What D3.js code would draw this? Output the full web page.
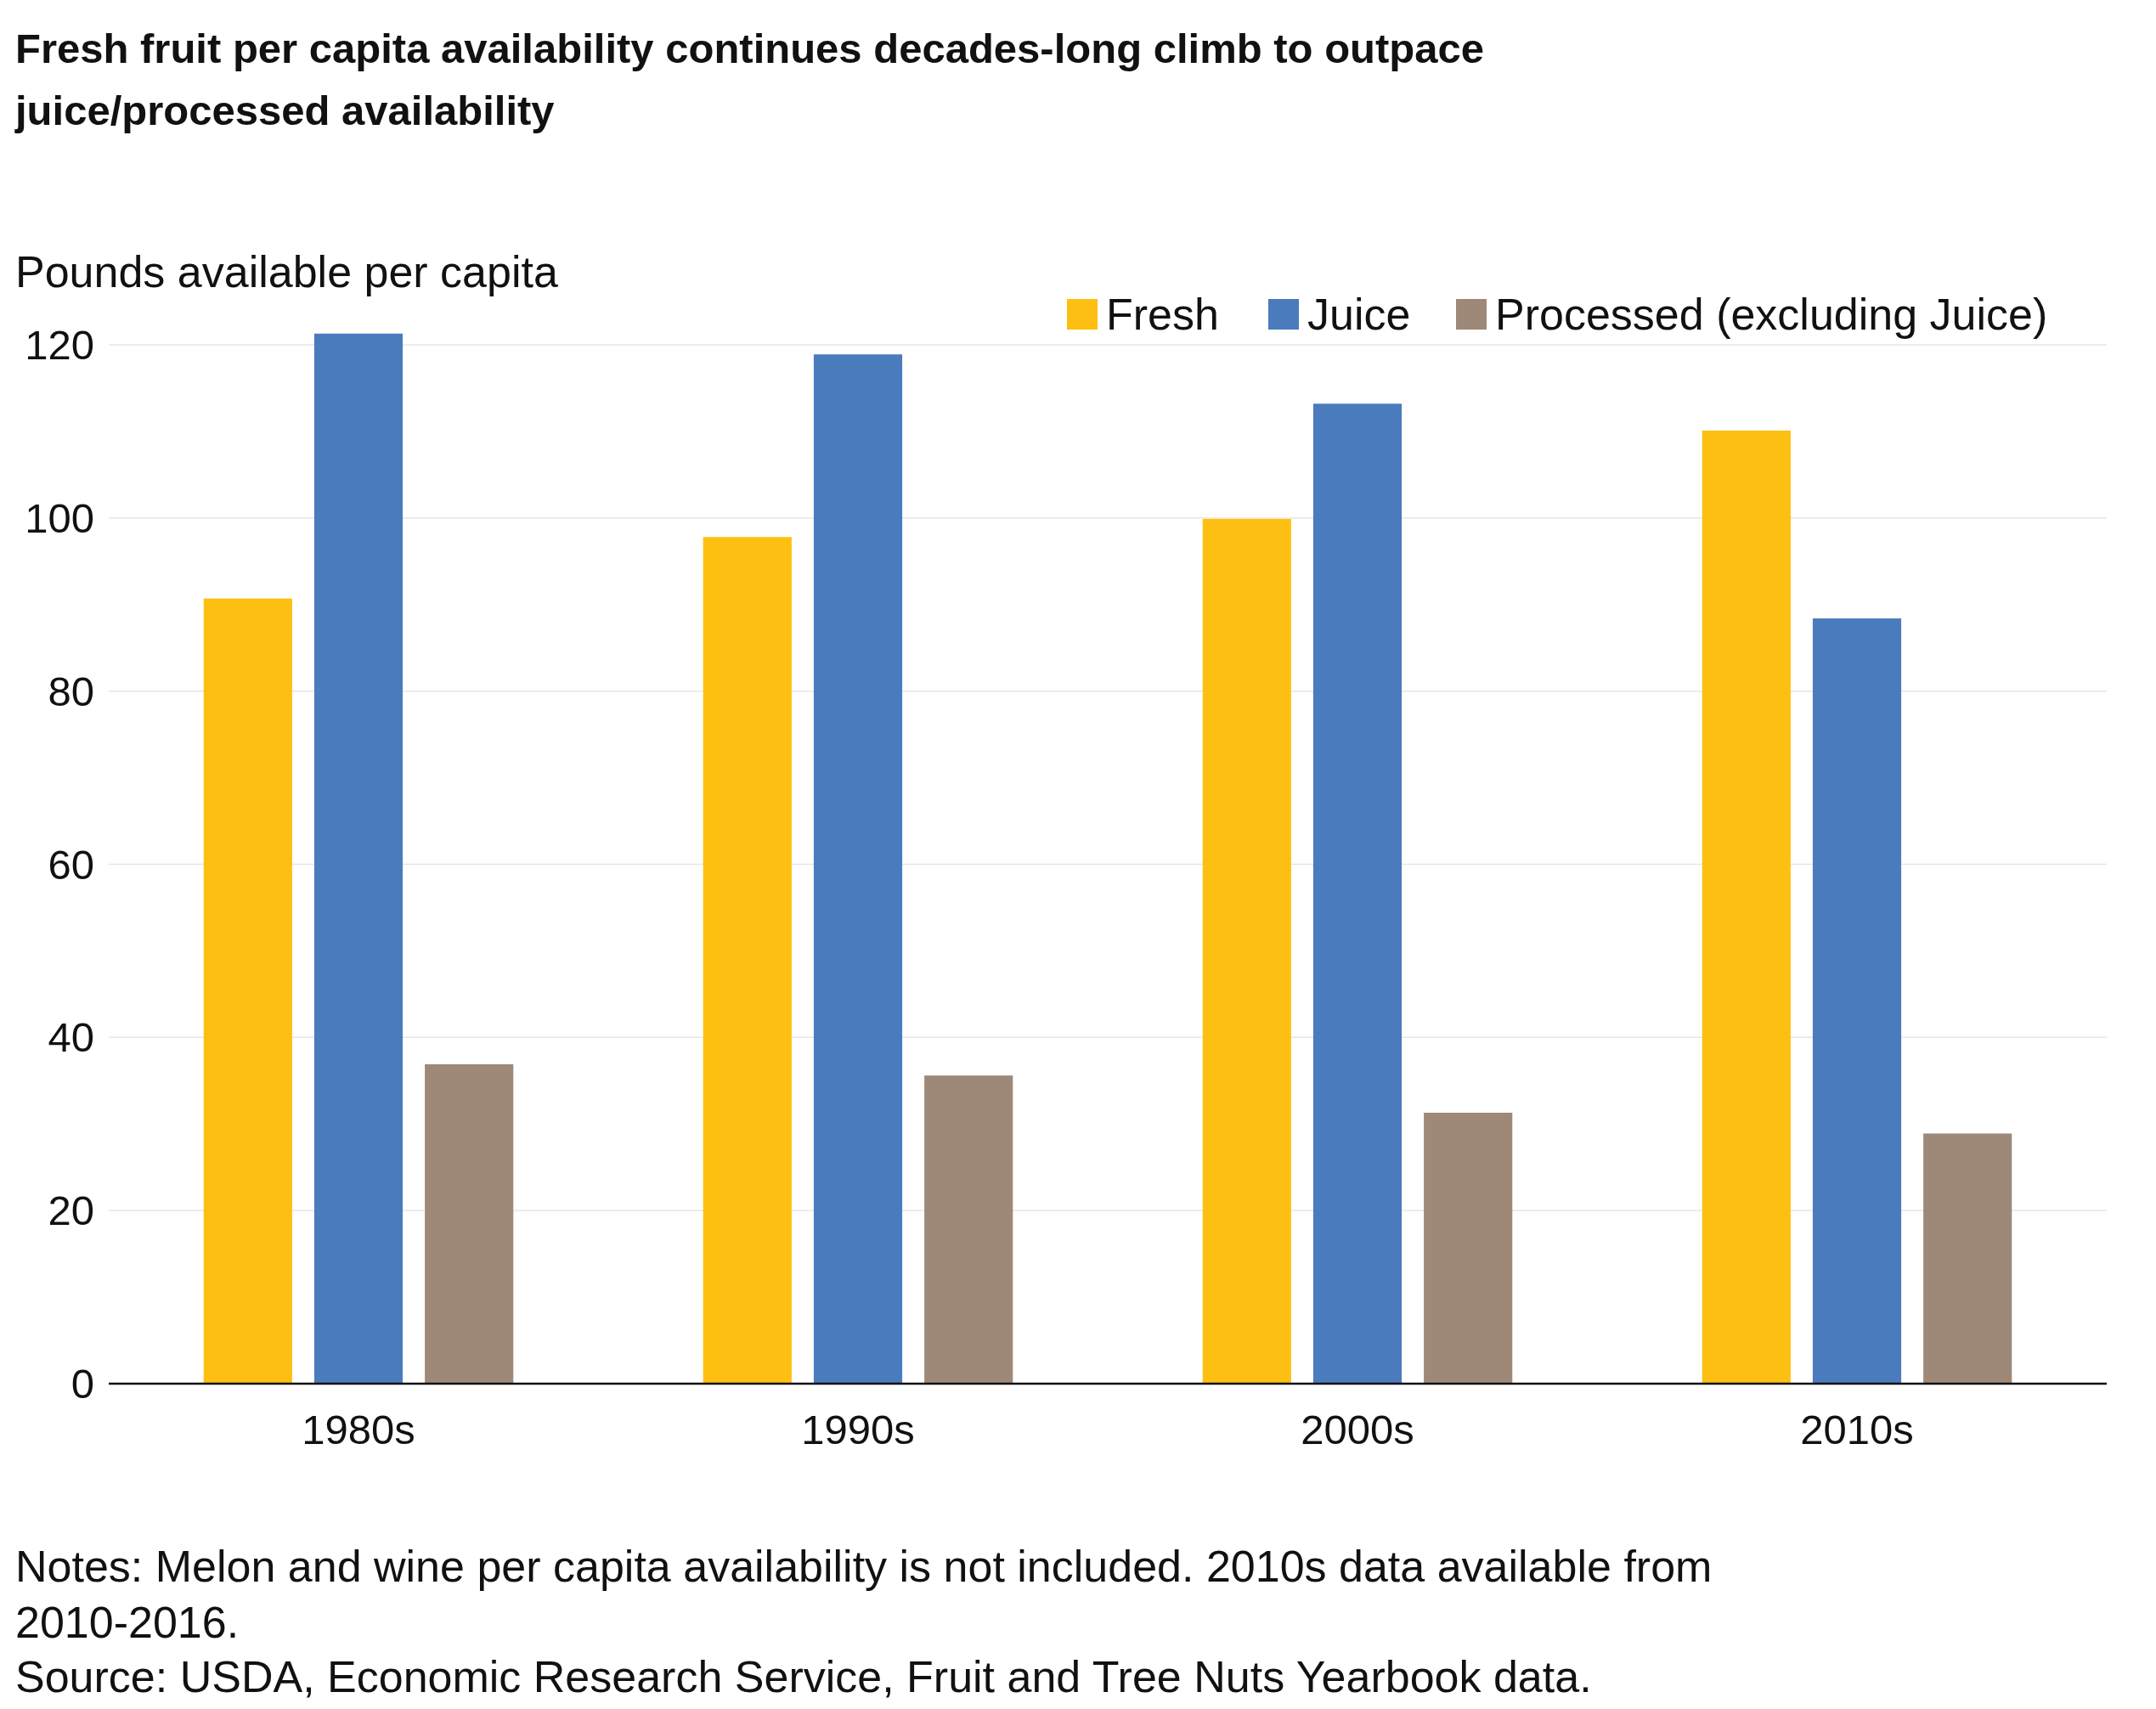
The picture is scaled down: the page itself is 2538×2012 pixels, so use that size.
<!DOCTYPE html>
<html><head><meta charset="utf-8">
<script src="https://cdn.jsdelivr.net/npm/d3@7"></script>
<style>body{margin:0;background:#fff}text{font-family:"Liberation Sans",Arial,sans-serif;fill:#111}</style>
</head><body><svg id="chart" width="2538" height="2012"></svg>
<script>
const decades = ['1980s', '1990s', '2000s', '2010s'];
const series = ['Fresh', 'Juice', 'Processed (excluding Juice)'];
const fresh = [90.7, 97.8, 99.9, 110.1];
const juice = [121.3, 118.9, 113.2, 88.4];
const processed = [36.9, 35.6, 31.3, 28.9];
const yTicks = [0, 20, 40, 60, 80, 100, 120];
const colors = ['#fdbf11', '#4a7bbd', '#9e8878'];

const svg = d3.select('#chart');
const plotLeft = 128, plotRight = 2480, plotTop = 406, plotBottom = 1629;

const x = d3.scaleBand().domain(decades).range([plotLeft, plotRight]).paddingInner(0.38).paddingOuter(0.19);
const xs = d3.scaleBand().domain(series).range([0, x.bandwidth()]).paddingInner(0.2);
const y = d3.scaleLinear().domain([0, 120]).range([plotBottom, plotTop]);

// title
svg.append('text').attr('x', 18).attr('y', 74).attr('font-size', 49).attr('font-weight', 'bold')
  .text('Fresh fruit per capita availability continues decades-long climb to outpace');
svg.append('text').attr('x', 18).attr('y', 147).attr('font-size', 49).attr('font-weight', 'bold')
  .text('juice/processed availability');
svg.append('text').attr('x', 18).attr('y', 338).attr('font-size', 52).text('Pounds available per capita');

// gridlines and ticks
svg.append('g').selectAll('line').data(yTicks.slice(1)).join('line')
  .attr('x1', plotLeft).attr('x2', plotRight).attr('y1', d => y(d)).attr('y2', d => y(d))
  .attr('stroke', '#e6e6e6').attr('stroke-width', 1.5);
svg.append('g').selectAll('text').data(yTicks).join('text')
  .attr('x', 111).attr('y', d => y(d)).attr('dy', '0.35em').attr('text-anchor', 'end')
  .attr('font-size', 49).text(d => d);

// bars
const rows = decades.map((d, i) => ({decade: d, values: [fresh[i], juice[i], processed[i]]}));
const g = svg.append('g').selectAll('g').data(rows).join('g')
  .attr('transform', d => `translate(${x(d.decade)},0)`);
g.selectAll('rect').data(d => d.values.map((v, j) => ({s: series[j], v, j}))).join('rect')
  .attr('x', d => xs(d.s)).attr('width', xs.bandwidth())
  .attr('y', d => y(d.v)).attr('height', d => y(0) - y(d.v))
  .attr('fill', d => colors[d.j]);

// x axis
svg.append('line').attr('x1', plotLeft).attr('x2', plotRight).attr('y1', plotBottom).attr('y2', plotBottom)
  .attr('stroke', '#111').attr('stroke-width', 2.5);
svg.append('g').selectAll('text').data(decades).join('text')
  .attr('x', d => x(d) + x.bandwidth() / 2).attr('y', 1700).attr('text-anchor', 'middle')
  .attr('font-size', 49).text(d => d);

// legend
const legendX = [1256, 1493, 1714];
const lg = svg.append('g').selectAll('g').data(series).join('g')
  .attr('transform', (d, i) => `translate(${legendX[i]},352)`);
lg.append('rect').attr('width', 36).attr('height', 36).attr('fill', (d, i) => colors[i]);
lg.append('text').attr('x', 46).attr('y', 18).attr('dy', '0.35em').attr('font-size', 52).text(d => d);

// notes
const notes = ['Notes: Melon and wine per capita availability is not included. 2010s data available from',
  '2010-2016.', 'Source: USDA, Economic Research Service, Fruit and Tree Nuts Yearbook data.'];
svg.append('g').selectAll('text').data(notes).join('text')
  .attr('x', 18).attr('y', (d, i) => [1862, 1928, 1992][i]).attr('font-size', 52).text(d => d);
</script></body></html>
